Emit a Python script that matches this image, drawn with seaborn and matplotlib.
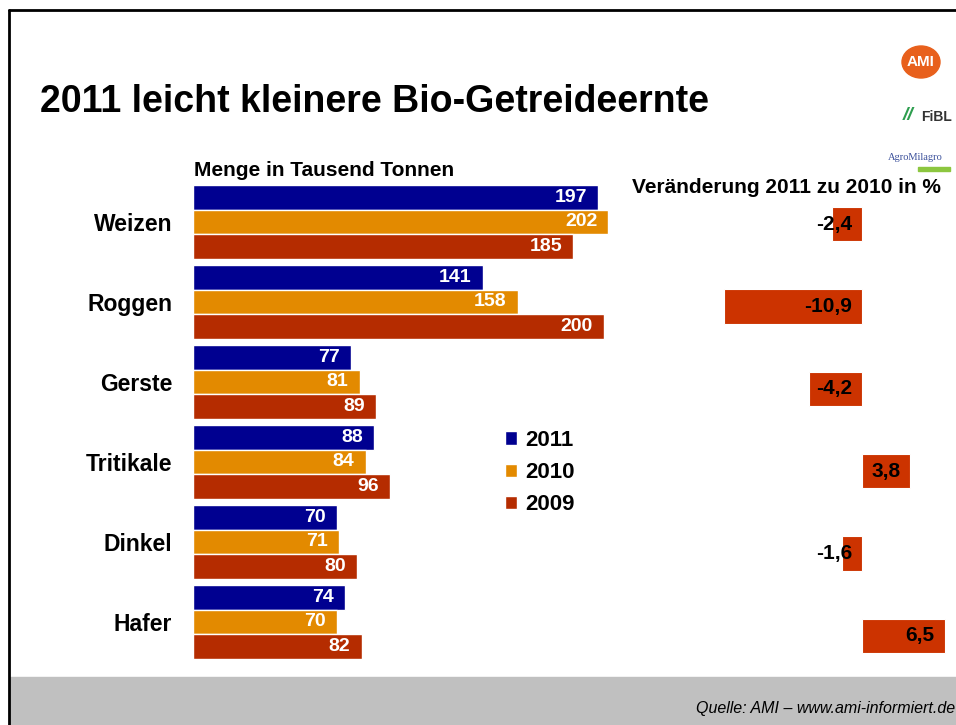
import pandas as pd
import matplotlib.pyplot as plt
import seaborn as sns
from matplotlib.patches import Rectangle, Ellipse
from matplotlib.lines import Line2D

sorten = ["Weizen", "Roggen", "Gerste", "Tritikale", "Dinkel", "Hafer"]
jahre = ["2011", "2010", "2009"]
menge_2011 = [197, 141, 77, 88, 70, 74]
menge_2010 = [202, 158, 81, 84, 71, 70]
menge_2009 = [185, 200, 89, 96, 80, 82]
veraenderung = [-2.4, -10.9, -4.2, 3.8, -1.6, 6.5]

farben = {"2011": "#000090", "2010": "#E38A00", "2009": "#B52C00"}
farbe_rechts = "#CC3300"

df = pd.DataFrame({
    "Sorte": sorten * 3,
    "Jahr": ["2011"] * 6 + ["2010"] * 6 + ["2009"] * 6,
    "Menge": menge_2011 + menge_2010 + menge_2009,
})
df_rechts = pd.DataFrame({"Sorte": sorten, "Veraenderung": veraenderung})

sns.set_theme(style="white")
plt.rcParams["font.family"] = ["Liberation Sans", "DejaVu Sans"]
plt.rcParams["text.color"] = "black"

W, H = 956, 725
fig = plt.figure(figsize=(W / 100, H / 100), dpi=100)

def px(x0, y0, x1, y1):
    return [x0 / W, 1 - y1 / H, (x1 - x0) / W, (y1 - y0) / H]

# linkes Diagramm: Menge
ax = fig.add_axes(px(193, 182, 635, 662))
sns.barplot(data=df, x="Menge", y="Sorte", hue="Jahr", hue_order=jahre,
            palette=farben, orient="h", width=0.925, ax=ax,
            edgecolor="white", linewidth=1, saturation=1)
ax.set_xlim(0, 215)
ax.set_ylim(5.5, -0.5)
ax.set_xlabel("")
ax.set_ylabel("")
ax.set_xticks([])
ax.tick_params(axis="y", length=0, pad=15)
for lab in ax.get_yticklabels():
    lab.set_fontsize(16.5)
    lab.set_fontweight("bold")
    lab.set_color("black")
sns.despine(ax=ax, left=True, bottom=True)

for cont in ax.containers:
    for bar in cont:
        w = bar.get_width()
        y = bar.get_y() + bar.get_height() / 2
        ax.annotate(f"{w:.0f}", (w, y), xytext=(-8, 0), textcoords="offset points",
                    ha="right", va="center", color="white", fontsize=14,
                    fontweight="bold")

leg = ax.legend(loc="upper left", bbox_to_anchor=(485 / W, 1 - 410 / H),
                bbox_transform=fig.transFigure, frameon=False,
                handlelength=0.55, handleheight=0.55, handletextpad=0.35,
                labelspacing=0.5, prop={"size": 16, "weight": "bold"})
for t in leg.get_texts():
    t.set_color("black")

# rechtes Diagramm: Veränderung
ax2 = fig.add_axes(px(700, 183, 956, 677))
sns.barplot(data=df_rechts, x="Veraenderung", y="Sorte", color=farbe_rechts,
            orient="h", width=0.42, ax=ax2, saturation=1,
            edgecolor="white", linewidth=0.8)
ax2.set_xlim(-12.8, 7.4)
ax2.set_ylim(5.5, -0.5)
ax2.set_axis_off()
for bar, v in zip(ax2.patches, veraenderung):
    y = bar.get_y() + bar.get_height() / 2
    ax2.annotate(f"{v:.1f}".replace(".", ","), (max(v, 0), y), xytext=(-7, 0),
                 textcoords="offset points", ha="right", va="center",
                 color="black", fontsize=15, fontweight="bold")

# Texte
fig.text(40 / W, 1 - 112 / H, "2011 leicht kleinere Bio-Getreideernte",
         fontsize=27, fontweight="bold", va="baseline")
fig.text(194 / W, 1 - 176 / H, "Menge in Tausend Tonnen",
         fontsize=15, fontweight="bold", va="baseline")
fig.text(632 / W, 1 - 193 / H, "Veränderung 2011 zu 2010 in %",
         fontsize=15, fontweight="bold", va="baseline")

# Fußzeile und Rahmen
fig.add_artist(Rectangle((10 / W, 0), 1 - 10 / W, 48 / H,
                         transform=fig.transFigure, color="#C0C0C0", zorder=0))
fig.text(0.999, 1 - 713 / H, "Quelle: AMI – www.ami-informiert.de",
         fontsize=11.5, style="italic", ha="right", va="baseline")
fig.add_artist(Line2D([8.5 / W, 8.5 / W], [0, 1 - 10 / H], color="black", lw=2))
fig.add_artist(Line2D([8.5 / W, 1], [1 - 10 / H, 1 - 10 / H], color="black", lw=2))

# Logos (vereinfacht)
fig.add_artist(Ellipse((921 / W, 1 - 62 / H), 38 / W, 32 / H,
                       transform=fig.transFigure, color="#E8601C"))
fig.text(921 / W, 1 - 62 / H, "AMI", color="white", fontsize=11,
         fontweight="bold", ha="center", va="center")
fig.text(903 / W, 1 - 116 / H, "//", color="#2E9E4F", fontsize=14,
         fontweight="bold", ha="left", va="center", style="italic")
fig.text(921 / W, 1 - 117 / H, "FiBL", color="#333333", fontsize=10,
         fontweight="bold", ha="left", va="center")
fig.text(915 / W, 1 - 160 / H, "AgroMilagro", color="#3A4F9A", fontsize=7.5,
         family="Liberation Serif", ha="center", va="baseline")
fig.add_artist(Rectangle((918 / W, 1 - 171 / H), 32 / W, 4 / H,
                         transform=fig.transFigure, color="#8CC63F"))

fig.savefig("out.png", dpi=100)
